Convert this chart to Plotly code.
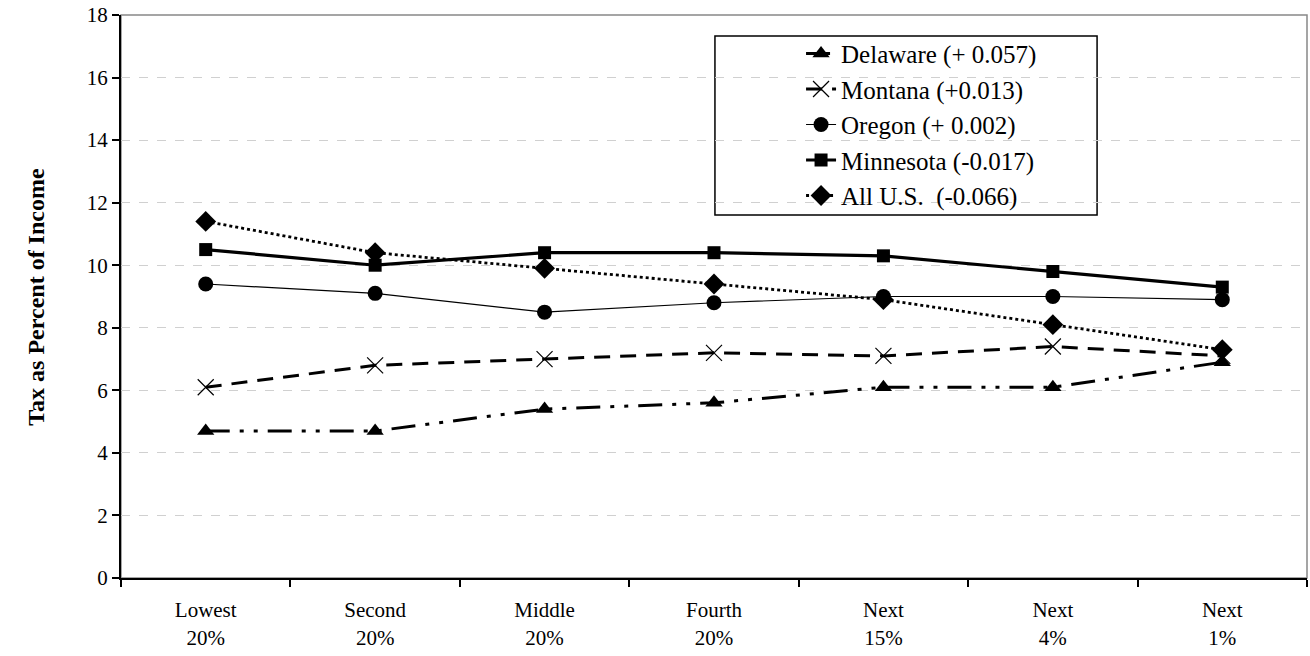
import plotly.graph_objects as go

categories = ["Lowest<br>20%", "Second<br>20%", "Middle<br>20%", "Fourth<br>20%",
              "Next<br>15%", "Next<br>4%", "Next<br>1%"]
delaware = [4.7, 4.7, 5.4, 5.6, 6.1, 6.1, 6.9]
montana = [6.1, 6.8, 7.0, 7.2, 7.1, 7.4, 7.1]
oregon = [9.4, 9.1, 8.5, 8.8, 9.0, 9.0, 8.9]
minnesota = [10.5, 10.0, 10.4, 10.4, 10.3, 9.8, 9.3]
all_us = [11.4, 10.4, 9.9, 9.4, 8.9, 8.1, 7.3]
names = ["Delaware (+ 0.057)", "Montana (+0.013)", "Oregon (+ 0.002)",
         "Minnesota (-0.017)", "All U.S.  (-0.066)"]
y_ticks = [0, 2, 4, 6, 8, 10, 12, 14, 16, 18]
y_title = "Tax as Percent of Income"

FONT = "Liberation Serif"

fig = go.Figure()
series = [
    (delaware, names[0], dict(width=3, dash="24px,10px,4px,10px,4px,10px"), dict(symbol="triangle-up", size=15)),
    (montana, names[1], dict(width=3, dash="16px,10px"), dict(symbol="x-thin-open", size=16, line=dict(width=1.2, color="black"))),
    (oregon, names[2], dict(width=1.2), dict(symbol="circle", size=15)),
    (minnesota, names[3], dict(width=3.2), dict(symbol="square", size=13)),
    (all_us, names[4], dict(width=2.8, dash="dot"), dict(symbol="diamond", size=16)),
]
for i, (vals, nm, ln, mk) in enumerate(series):
    ln["color"] = "black"
    mk["color"] = "black"
    fig.add_trace(go.Scatter(x=categories, y=vals, name=nm, mode="lines+markers",
                             line=ln, marker=mk))

# plot-area frame (top/right are grey in the reference)
fig.add_shape(type="rect", xref="paper", yref="paper", x0=0, y0=0, x1=1, y1=1,
              line=dict(color="#888888", width=1.5), layer="below")
# legend box
fig.add_shape(type="rect", xref="paper", yref="paper", x0=0.5008, y0=0.6448,
              x1=0.823, y1=0.9627, line=dict(color="black", width=1.5),
              fillcolor="white", layer="below")

fig.add_annotation(text="<b>" + y_title + "</b>", xref="paper", yref="paper",
                   x=-0.085, y=0.5, textangle=-90, showarrow=False,
                   font=dict(family=FONT, size=24, color="black"))

fig.update_layout(
    width=1310, height=656,
    margin=dict(l=121, r=3, t=15, b=78),
    paper_bgcolor="white", plot_bgcolor="white",
    font=dict(family=FONT, size=21, color="black"),
    showlegend=True,
    legend=dict(x=0.5734, y=0.972, xanchor="left", yanchor="top",
                borderwidth=0, bgcolor="rgba(0,0,0,0)",
                font=dict(family=FONT, size=25, color="black"),
                tracegroupgap=0),
    xaxis=dict(type="category", tickson="boundaries", ticks="outside", ticklen=7,
               tickcolor="black", tickwidth=1.5, showline=True, linecolor="black",
               linewidth=2, showgrid=False, range=[-0.5, 6.5], automargin=False,
               tickfont=dict(family=FONT, size=21), ticklabelstandoff=12),
    yaxis=dict(range=[0, 18], tickvals=y_ticks, ticks="outside", ticklen=7,
               tickcolor="black", tickwidth=1.5, showline=True, linecolor="black",
               linewidth=2, showgrid=True, gridcolor="#d0d0d0", griddash="dash",
               gridwidth=1, zeroline=False, automargin=False,
               ticklabeloverflow="allow", tickfont=dict(family=FONT, size=21)),
)

fig.write_html("out.html", config={"displayModeBar": False},
               post_script="document.body.style.margin='0';")
